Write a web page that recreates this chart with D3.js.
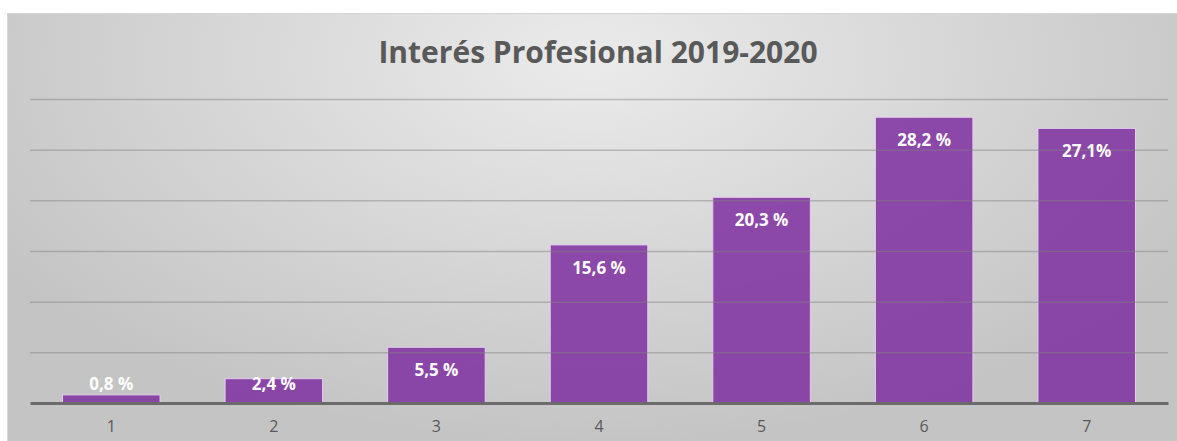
<html>
<head>
<meta charset="utf-8">
<script src="https://d3js.org/d3.v7.min.js"></script>
<style>
body { margin: 0; background: #fff; }
svg { display: block; font-family: "Open Sans", Lato, sans-serif; }
</style>
</head>
<body>
<svg id="chart" width="1177" height="441"></svg>
<script>
var title = "Interés Profesional 2019-2020";
var categories = ["1", "2", "3", "4", "5", "6", "7"];
var values = [0.8, 2.4, 5.5, 15.6, 20.3, 28.2, 27.1];
var labels = ["0,8 %", "2,4 %", "5,5 %", "15,6 %", "20,3 %", "28,2 %", "27,1%"];
var yTicks = [0, 5, 10, 15, 20, 25, 30];

var svg = d3.select("#chart");
var margin = {top: 99, left: 30, bottom: 38, right: 9};
var W = +svg.attr("width"), H = +svg.attr("height");

// background panel with soft radial gradient
var defs = svg.append("defs");
var grad = defs.append("radialGradient")
    .attr("id", "bg")
    .attr("gradientUnits", "userSpaceOnUse")
    .attr("cx", 590).attr("cy", 60).attr("r", 700)
    .attr("gradientTransform", "translate(590,60) scale(1,0.55) translate(-590,-60)");
grad.append("stop").attr("offset", "0%").attr("stop-color", "#ebebeb");
grad.append("stop").attr("offset", "100%").attr("stop-color", "#c4c4c4");

svg.append("rect")
    .attr("x", 7.5).attr("y", 13.5)
    .attr("width", W).attr("height", H)
    .attr("fill", "url(#bg)")
    .attr("stroke", "#d6d6d6");

var x = d3.scaleBand()
    .domain(categories)
    .range([margin.left, W - margin.right])
    .paddingInner(0.4)
    .paddingOuter(0.2);

var y = d3.scaleLinear()
    .domain([0, 30])
    .range([H - margin.bottom, margin.top]);

// bars
svg.append("g").selectAll("rect")
    .data(values)
    .join("rect")
    .attr("x", (d, i) => x(categories[i]))
    .attr("y", d => y(d))
    .attr("width", x.bandwidth())
    .attr("height", d => y(0) - y(d))
    .attr("fill", "#7e2fa0")
    .attr("fill-opacity", 0.85)
    .attr("stroke", "#e4cdee")
    .attr("stroke-width", 1);

// gridlines (drawn over bars, faintly)
svg.append("g")
    .attr("transform", `translate(${margin.left},0)`)
    .call(d3.axisLeft(y).tickValues(yTicks.slice(1)).tickSize(-(W - margin.right - margin.left)).tickFormat(""))
    .call(g => g.select(".domain").remove())
    .call(g => g.selectAll("line").attr("stroke", "#808080").attr("stroke-opacity", 0.45).attr("stroke-width", 1.5));

// x axis
var xAxis = svg.append("g")
    .attr("transform", `translate(0,${y(0)})`)
    .call(d3.axisBottom(x).tickSize(0).tickPadding(18));
xAxis.select(".domain").attr("stroke", "#6b6b6b").attr("stroke-width", 3);
xAxis.selectAll("text")
    .attr("fill", "#595959")
    .style("font-size", "16px")
    .style("font-family", "\"Open Sans\", sans-serif");

// value labels
svg.append("g").selectAll("text")
    .data(values)
    .join("text")
    .attr("x", (d, i) => x(categories[i]) + x.bandwidth() / 2)
    .attr("y", d => Math.min(y(d) + 23, 384))
    .attr("dy", "0.35em")
    .attr("text-anchor", "middle")
    .attr("fill", "#fff")
    .style("font-weight", "bold")
    .style("font-size", "17px")
    .text((d, i) => labels[i]);

// title
svg.append("text")
    .attr("x", 598)
    .attr("y", 63)
    .attr("text-anchor", "middle")
    .attr("fill", "#595959")
    .style("font-weight", "bold")
    .style("font-size", "30px")
    .text(title);
</script>
</body>
</html>
